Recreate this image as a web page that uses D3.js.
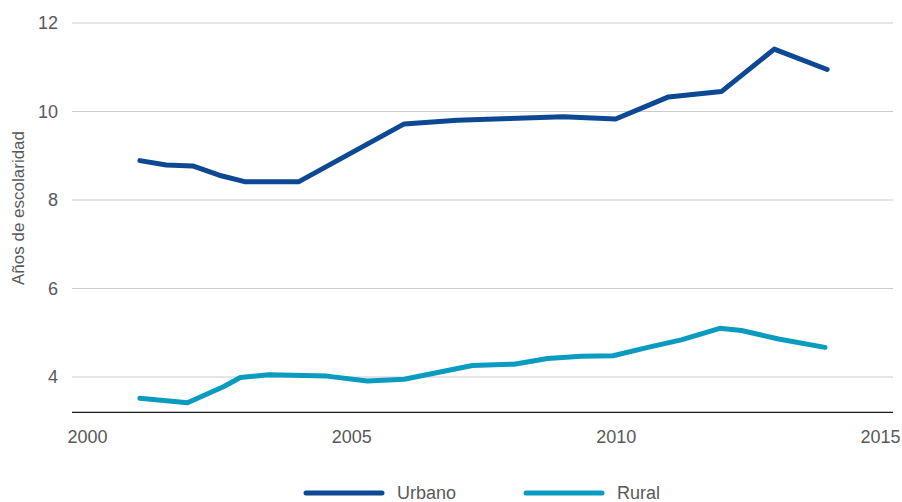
<!DOCTYPE html>
<html>
<head>
<meta charset="utf-8">
<script src="https://cdn.jsdelivr.net/npm/d3@7"></script>
<style>
  html, body { margin: 0; padding: 0; background: #fff; }
  svg { display: block; font-family: "Liberation Sans", Arial, sans-serif; }
</style>
</head>
<body>
<svg id="chart" width="902" height="502"></svg>
<script>
// Años promedio de escolaridad, población urbana y rural
const urbanYears  = [2001, 2001.5, 2002, 2002.5, 2003, 2004, 2006, 2007, 2008, 2009, 2010, 2011, 2012, 2013, 2014];
const urbanValues = [8.89, 8.79, 8.77, 8.56, 8.41, 8.41, 9.72, 9.80, 9.84, 9.88, 9.83, 10.33, 10.45, 11.41, 10.95];

const ruralYears  = [2001, 2001.9, 2002.58, 2002.9, 2003.43, 2004.54, 2005.3, 2006, 2007.29, 2008.08, 2008.71, 2009.35, 2009.95, 2010.61, 2011.24, 2011.97, 2012.38, 2013.08, 2013.96];
const ruralValues = [3.52, 3.42, 3.78, 3.99, 4.05, 4.02, 3.91, 3.95, 4.26, 4.29, 4.42, 4.47, 4.48, 4.67, 4.84, 5.10, 5.05, 4.86, 4.67];

const xTicks = [2000, 2005, 2010, 2015];
const yTicks = [4, 6, 8, 10, 12];
const seriesNames = ["Urbano", "Rural"];
const seriesColors = ["#0c4893", "#0a9bc1"];
const yTitle = "Años de escolaridad";

const svg = d3.select("#chart");
const textColor = "#595959";
const gridLeft = 72, gridRight = 893;

const x = d3.scaleLinear().domain([2000, 2015]).range([87, 880]);
const y = d3.scaleLinear().domain([3.2, 12]).range([412.4, 23]);

// horizontal gridlines
svg.append("g")
  .selectAll("line")
  .data(yTicks)
  .join("line")
  .attr("x1", gridLeft).attr("x2", gridRight)
  .attr("y1", d => y(d)).attr("y2", d => y(d))
  .attr("stroke", "#cbcbcb").attr("stroke-width", 1.2);

// y axis labels
const yAxis = svg.append("g")
  .attr("transform", `translate(${gridLeft},0)`)
  .call(d3.axisLeft(y).tickValues(yTicks).tickSize(0).tickPadding(14).tickFormat(d3.format("d")));
yAxis.select(".domain").remove();
yAxis.selectAll("text")
  .attr("fill", textColor).style("font-size", "18px");

// x axis with baseline
const xAxis = svg.append("g")
  .attr("transform", `translate(0,${y(3.2)})`)
  .call(d3.axisBottom(x).tickValues(xTicks).tickSize(0).tickPadding(18).tickFormat(d3.format("d")));
xAxis.select(".domain").remove();
xAxis.selectAll("text")
  .attr("fill", textColor).style("font-size", "18px");
svg.append("line")
  .attr("x1", gridLeft).attr("x2", gridRight)
  .attr("y1", y(3.2)).attr("y2", y(3.2))
  .attr("stroke", "#1a1a1a").attr("stroke-width", 1.2);

// y axis title
svg.append("text")
  .attr("transform", "translate(24,208) rotate(-90)")
  .attr("text-anchor", "middle")
  .attr("fill", textColor)
  .style("font-size", "17px")
  .text(yTitle);

// series lines
const line = d3.line().x(d => x(d[0])).y(d => y(d[1]));
const series = [
  d3.zip(urbanYears, urbanValues),
  d3.zip(ruralYears, ruralValues)
];
svg.append("g")
  .selectAll("path")
  .data(series)
  .join("path")
  .attr("d", line)
  .attr("fill", "none")
  .attr("stroke", (d, i) => seriesColors[i])
  .attr("stroke-width", 5)
  .attr("stroke-linejoin", "round")
  .attr("stroke-linecap", "round");

// legend
const legendX = [306, 526];
const legend = svg.append("g")
  .selectAll("g")
  .data(seriesNames)
  .join("g")
  .attr("transform", (d, i) => `translate(${legendX[i]},493)`);
legend.append("line")
  .attr("x1", 0).attr("x2", 76)
  .attr("stroke", (d, i) => seriesColors[i])
  .attr("stroke-width", 5)
  .attr("stroke-linecap", "round");
legend.append("text")
  .attr("x", 91)
  .attr("dy", "0.35em")
  .attr("fill", textColor)
  .style("font-size", "18px")
  .text(d => d);
</script>
</body>
</html>
